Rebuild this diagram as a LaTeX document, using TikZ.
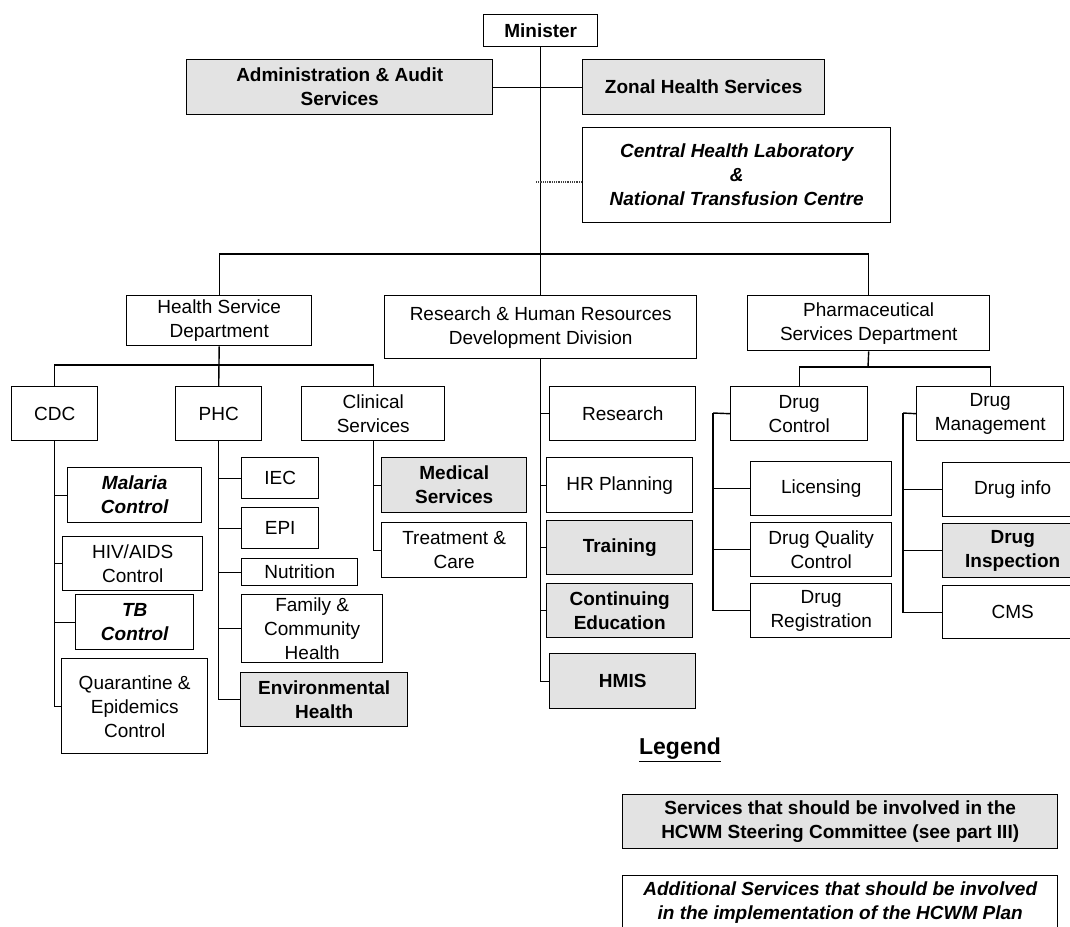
\documentclass[tikz,border=0pt]{standalone}
\usepackage{fontspec}
\setmainfont{Liberation Sans}
\definecolor{boxgray}{RGB}{227,227,227}
\tikzset{
  x=1pt, y=-1pt,
  box/.style={draw=black, line width=1.4pt, inner sep=0pt, align=center, font=\fontsize{19}{24}\selectfont},
  bbox/.style={box, font=\fontsize{19}{24}\selectfont\bfseries},
  gbox/.style={box, fill=boxgray, font=\fontsize{19}{24}\selectfont\bfseries},
  ibox/.style={box, font=\fontsize{19}{24}\selectfont\bfseries\itshape},
  conn/.style={line width=1.4pt},
  dotconn/.style={line width=1.3pt, black!75, dash pattern=on 1pt off 0.8pt},
  legendtitle/.style={font=\fontsize{23}{26}\selectfont\bfseries},
}
\newcommand\bx[7]{\node[#2, anchor=north west, minimum width={#5-#3}, minimum height={#6-#4}] (#1) at (#3,#4) {#7};}
\begin{document}
\begin{tikzpicture}
\useasboundingbox (0,0) rectangle (1070,926);
% top level
\bx{minister}{bbox}{483}{14}{597}{46}{Minister}
\bx{admin}{gbox}{186}{59}{492}{114}{Administration \& Audit\\Services}
\bx{zonal}{gbox}{582}{59}{824}{114}{Zonal Health Services}
\bx{central}{ibox}{582}{127}{890}{222}{Central Health Laboratory\\\&\\National Transfusion Centre}
% departments
\bx{hsd}{box}{126}{295}{311}{345}{Health Service\\Department}
\bx{rhr}{box}{384}{295}{696}{358}{Research \& Human Resources\\Development Division}
\bx{psd}{box}{747}{295}{989}{350}{Pharmaceutical\\Services Department}
% HSD units
\bx{cdc}{box}{11}{386}{97}{440}{CDC}
\bx{phc}{box}{175}{386}{261}{440}{PHC}
\bx{clin}{box}{301}{386}{444}{440}{Clinical\\Services}
\bx{mal}{ibox}{67}{467}{201}{522}{Malaria\\Control}
\bx{hiv}{box}{62}{536}{202}{590}{HIV/AIDS\\Control}
\bx{tb}{ibox}{75}{594}{193}{649}{TB\\Control}
\bx{quar}{box}{61}{658}{207}{753}{Quarantine \&\\Epidemics\\Control}
\bx{iec}{box}{241}{457}{318}{498}{IEC}
\bx{epi}{box}{241}{507}{318}{548}{EPI}
\bx{nut}{box}{241}{558}{357}{585}{Nutrition}
\bx{fam}{box}{241}{594}{382}{662}{Family \&\\Community\\Health}
\bx{env}{gbox}{240}{672}{407}{726}{Environmental\\Health}
\bx{med}{gbox}{381}{457}{526}{512}{Medical\\Services}
\bx{treat}{box}{381}{522}{526}{577}{Treatment \&\\Care}
% Research units
\bx{res}{box}{549}{386}{695}{440}{Research}
\bx{hrp}{box}{546}{457}{692}{512}{HR Planning}
\bx{trn}{gbox}{546}{520}{692}{574}{Training}
\bx{ce}{gbox}{546}{583}{692}{637}{Continuing\\Education}
\bx{hmis}{gbox}{549}{653}{695}{708}{HMIS}
% Pharmaceutical units
\bx{dc}{box}{730}{386}{867}{440}{Drug\\Control}
\bx{dm}{box}{916}{386}{1063}{440}{Drug\\Management}
\bx{lic}{box}{750}{461}{891}{515}{Licensing}
\bx{dqc}{box}{750}{522}{891}{576}{Drug Quality\\Control}
\bx{dreg}{box}{750}{583}{891}{637}{Drug\\Registration}
\bx{dinfo}{box}{942}{462}{1082}{516}{Drug info}
\bx{dinsp}{gbox}{942}{523}{1082}{577}{Drug\\Inspection}
\bx{cms}{box}{942}{585}{1082}{638}{CMS}
% legend
\node[legendtitle] (legend) at (680,750) {\underline{Legend}};
\bx{leg1}{gbox}{622}{794}{1057}{848}{Services that should be involved in the\\HCWM Steering Committee (see part III)}
\bx{leg2}{ibox}{622}{875}{1057}{928}{Additional Services that should be involved\\in the implementation of the HCWM Plan}
% connectors
\coordinate (tbar) at (540,254);
\coordinate (dotl) at (536,182);
\coordinate (hbar) at (218,365);
\coordinate (pbar) at (868,367);
\coordinate (dcl) at (713,413);
\coordinate (dml) at (903,413);
\draw[conn] (admin.east) -- (zonal.west);
\draw[conn] (minister.south) -- (rhr.north);
\draw[conn] (hsd.north) |- (tbar) -| (psd.north);
\draw[dotconn] (dotl) -- (dotl -| central.west);
\draw[conn] (hsd.south) -- (phc.north);
\draw[conn] (cdc.north) |- (hbar) -| (clin.north);
\foreach \c in {mal,hiv,tb,quar} \draw[conn] (cdc.south) |- (\c.west);
\foreach \c in {iec,epi,nut,fam,env} \draw[conn] (phc.south) |- (\c.west);
\foreach \c in {med,treat} \draw[conn] (clin.south) |- (\c.west);
\foreach \c in {res,hrp,trn,ce,hmis} \draw[conn] (rhr.south) |- (\c.west);
\draw[conn] (psd.south) -- (pbar);
\draw[conn] (dc.north) |- (pbar) -| (dm.north);
\draw[conn] (dc.west) -- (dcl);
\foreach \c in {lic,dqc,dreg} \draw[conn] (dcl) |- (\c.west);
\draw[conn] (dm.west) -- (dml);
\foreach \c in {dinfo,dinsp,cms} \draw[conn] (dml) |- (\c.west);
\end{tikzpicture}
\end{document}
